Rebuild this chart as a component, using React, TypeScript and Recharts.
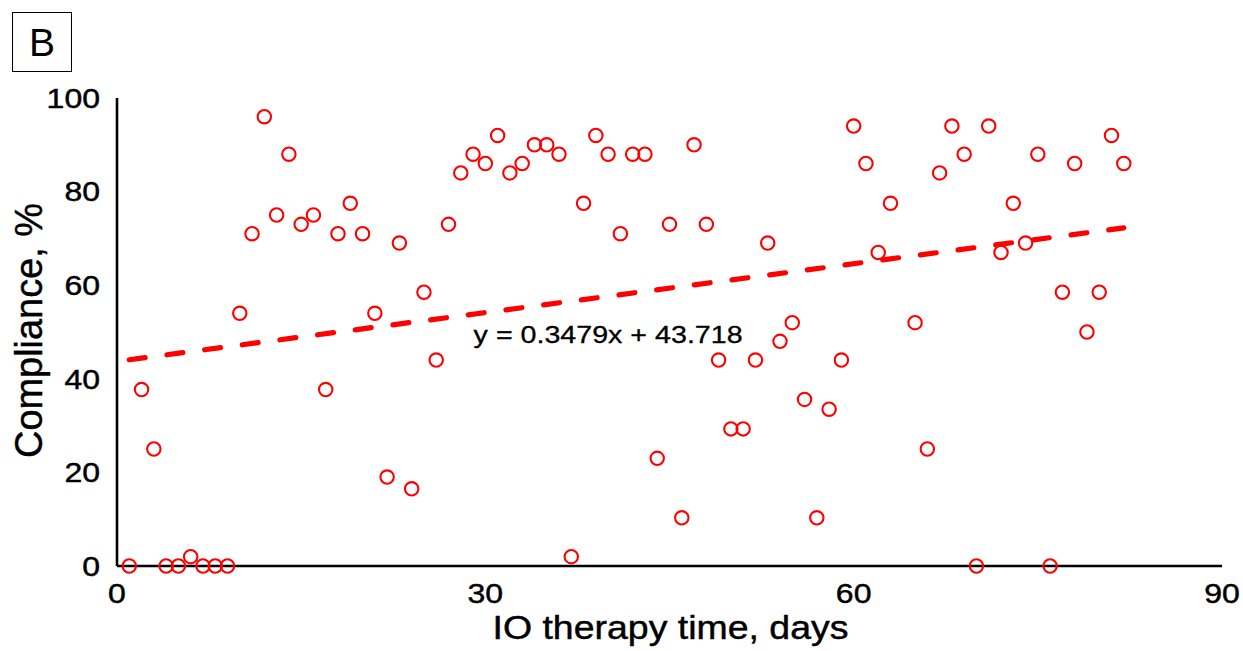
import React from 'react';
import { ScatterChart, Scatter, XAxis, YAxis, ReferenceLine, ReferenceDot } from 'recharts';

// days on IO therapy vs compliance (%)
const days = [
  1, 2, 3, 4, 5, 6, 7, 8, 9, 10,
  11, 12, 13, 14, 15, 16, 17, 18, 19, 20,
  21, 22, 23, 24, 25, 26, 27, 28, 29, 30,
  31, 32, 33, 34, 35, 36, 37, 38, 39, 40,
  41, 42, 43, 44, 45, 46, 47, 48, 49, 50,
  51, 52, 53, 54, 55, 56, 57, 58, 59, 60,
  61, 62, 63, 65, 66, 67, 68, 69, 70,
  71, 72, 73, 74, 75, 76, 77, 78, 79, 80, 81, 82,
];

const compliance = [
  0, 37.7, 25, 0, 0, 2, 0, 0, 0, 54,
  71, 96, 75, 88, 73, 75, 37.7, 71, 77.5, 71,
  54, 19, 69, 16.5, 58.5, 44, 73, 84, 88, 86,
  92, 84, 86, 90, 90, 88, 2, 77.5, 92, 88,
  71, 88, 88, 23, 73, 10.3, 90, 73, 44, 29.3,
  29.3, 44, 69, 48, 52, 35.6, 10.3, 33.5, 44, 94,
  86, 67, 77.5, 52, 25, 84, 94, 88, 0,
  94, 67, 77.5, 69, 88, 0, 58.5, 86, 50, 58.5, 92, 86,
];

const xTicks = [0, 30, 60, 90];
const yTicks = [0, 20, 40, 60, 80, 100];

// linear trendline as printed on the figure
const slope = 0.3479;
const intercept = 43.718;
const trendFrom = 1;
const trendTo = 82;
const equationText = 'y = 0.3479x + 43.718';
const equationAt = { x: 40, y: 47.6 };

const xTitle = 'IO therapy time, days';
const yTitle = 'Compliance, %';
const panelLetter = 'B';

const RED = '#ff0000';
const FONT = '"Liberation Sans", Arial, sans-serif';
// a hairline stroke so the glyphs read as heavy as the scanned figure
const INK = { fill: '#000', stroke: '#000', strokeWidth: 0.45 };

const points = days.map((d, i) => ({ day: d, value: compliance[i] }));

const OpenCircle = (props: any) => {
  const { cx, cy } = props;
  return <circle cx={cx} cy={cy} r={6.7} fill="none" stroke={RED} strokeWidth={2.1} />;
};

const XTick = (props: any) => {
  const { x, y, payload } = props;
  const s = String(payload.value);
  return (
    <text x={x} y={y} dy={19.6} textAnchor="middle" fontSize={27.5} fontFamily={FONT} {...INK}
      textLength={s.length * 17.8} lengthAdjust="spacingAndGlyphs">
      {s}
    </text>
  );
};

const YTick = (props: any) => {
  const { x, y, payload } = props;
  const s = String(payload.value);
  return (
    <text x={x} y={y} dy={9.8} textAnchor="end" fontSize={27.5} fontFamily={FONT} {...INK}
      textLength={s.length * 17.8} lengthAdjust="spacingAndGlyphs">
      {s}
    </text>
  );
};

const XTitle = (props: any) => {
  const vb = props.viewBox || { x: 117, y: 566, width: 1105, height: 85 };
  return (
    <text x={vb.x + vb.width / 2 + 1} y={vb.y + 72.5} textAnchor="middle" fontSize={33} fontFamily={FONT}
      {...INK} textLength={356} lengthAdjust="spacingAndGlyphs">
      {xTitle}
    </text>
  );
};

const YTitle = (props: any) => {
  const vb = props.viewBox || { x: 0, y: 98, width: 117, height: 468 };
  const cx = 42;
  const cy = vb.y + vb.height / 2 - 1.5;
  return (
    <text x={cx} y={cy} transform={`rotate(-90 ${cx} ${cy})`} textAnchor="middle" fontSize={38}
      fontFamily={FONT} {...INK} textLength={255} lengthAdjust="spacingAndGlyphs">
      {yTitle}
    </text>
  );
};

const EquationLabel = (props: any) => {
  const vb = props.viewBox;
  if (!vb) return null;
  return (
    <text x={vb.x} y={vb.y} textAnchor="middle" fontSize={24.5} fontFamily={FONT} {...INK}
      strokeWidth={0.3} textLength={269} lengthAdjust="spacingAndGlyphs">
      {equationText}
    </text>
  );
};

export default function App() {
  return (
    <div style={{ position: 'absolute', left: 0, top: 0, width: 1243, height: 651, background: '#fff' }}>
      <div
        style={{
          position: 'absolute', left: 12, top: 12, width: 58, height: 58,
          border: '1.5px solid #000', display: 'flex', alignItems: 'center', justifyContent: 'center',
          fontFamily: FONT, fontSize: 39, lineHeight: 1, color: '#000', zIndex: 2,
        }}
      >
        {panelLetter}
      </div>
      <ScatterChart width={1243} height={651} margin={{ top: 98, right: 21, bottom: 0, left: 0 }}>
        <XAxis
          type="number"
          dataKey="day"
          domain={[0, 90]}
          ticks={xTicks}
          height={85}
          axisLine={{ stroke: '#000', strokeWidth: 2.6 }}
          tickLine={false}
          tickMargin={11}
          tick={<XTick />}
          label={{ content: <XTitle /> }}
        />
        <YAxis
          type="number"
          dataKey="value"
          domain={[0, 100]}
          ticks={yTicks}
          width={117}
          axisLine={{ stroke: '#000', strokeWidth: 2.6 }}
          tickLine={false}
          tickMargin={11}
          tick={<YTick />}
          label={{ content: <YTitle /> }}
        />
        <ReferenceLine
          segment={[
            { x: trendFrom, y: slope * trendFrom + intercept },
            { x: trendTo, y: slope * trendTo + intercept },
          ]}
          stroke={RED}
          strokeWidth={5.2}
          strokeDasharray="16 22"
          strokeLinecap="round"
          ifOverflow="visible"
        />
        <Scatter data={points} shape={<OpenCircle />} isAnimationActive={false} />
        <ReferenceDot
          x={equationAt.x}
          y={equationAt.y}
          r={0}
          fill="none"
          stroke="none"
          ifOverflow="visible"
          label={{ content: <EquationLabel /> }}
        />
      </ScatterChart>
    </div>
  );
}
